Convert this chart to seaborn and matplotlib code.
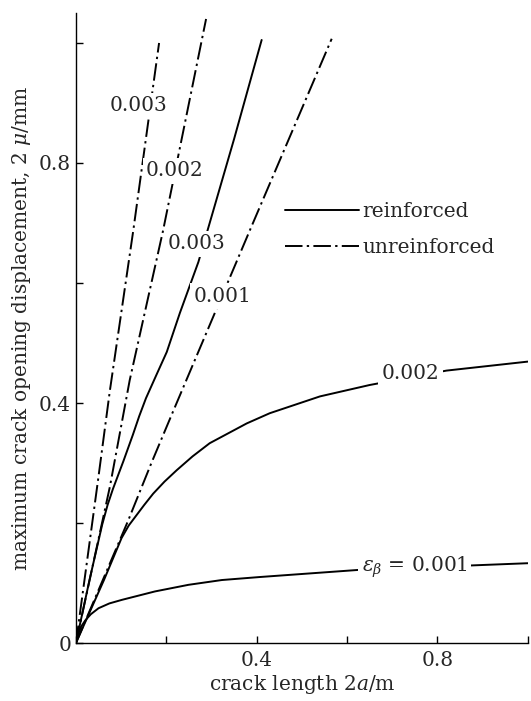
import numpy as np
import pandas as pd
import matplotlib
matplotlib.use("Agg")
import matplotlib.pyplot as plt
from matplotlib.lines import Line2D
import seaborn as sns

# ---- data ----
# unreinforced (dash-dot)
unr3_x = [0.0, 0.049, 0.075, 0.127, 0.184]
unr3_y = [0.0, 0.272, 0.420, 0.688, 1.000]
unr2_x = [0.0, 0.075, 0.119, 0.193, 0.288]
unr2_y = [0.0, 0.260, 0.438, 0.688, 1.040]
unr1_x = [0.0, 0.115, 0.167, 0.215, 0.385, 0.566]
unr1_y = [0.0, 0.203, 0.300, 0.386, 0.688, 1.007]
# reinforced (solid)
rf3_x = [0.0, 0.030, 0.058, 0.070, 0.082, 0.105, 0.126, 0.140, 0.155, 0.177, 0.201, 0.230, 0.271, 0.296, 0.350, 0.411]
rf3_y = [0.0, 0.105, 0.197, 0.230, 0.257, 0.303, 0.347, 0.378, 0.408, 0.445, 0.485, 0.550, 0.635, 0.700, 0.840, 1.005]
rf2_x = [0.0, 0.062, 0.101, 0.117, 0.134, 0.151, 0.171, 0.196, 0.223, 0.258, 0.296, 0.378, 0.429, 0.540, 0.650, 0.820, 1.000]
rf2_y = [0.0, 0.105, 0.175, 0.196, 0.213, 0.230, 0.249, 0.269, 0.288, 0.311, 0.333, 0.366, 0.383, 0.411, 0.430, 0.454, 0.469]
rf1_x = [0.0, 0.003, 0.006, 0.012, 0.021, 0.033, 0.050, 0.074, 0.102, 0.175, 0.249, 0.323, 0.407, 0.628, 1.000]
rf1_y = [0.0, 0.010, 0.017, 0.028, 0.038, 0.048, 0.058, 0.066, 0.072, 0.086, 0.097, 0.105, 0.110, 0.122, 0.133]

xticks = [0.0, 0.2, 0.4, 0.6, 0.8, 1.0]
xticklabels = ["", "", "0.4", "", "0.8", ""]
yticks = [0.0, 0.2, 0.4, 0.6, 0.8, 1.0]
yticklabels = ["0", "", "0.4", "", "0.8", ""]

curve_labels = [
    ("0.003", 0.139, 0.895),
    ("0.002", 0.219, 0.787),
    ("0.003", 0.266, 0.665),
    ("0.001", 0.325, 0.578),
    ("0.002", 0.740, 0.450),
]
eps_label = (r"$\epsilon_{\beta}$ = 0.001", 0.750, 0.127)
legend_labels = ["reinforced", "unreinforced"]

# ---- style ----
sns.set_style("ticks")
plt.rcParams["font.family"] = ["DejaVu Serif"]
plt.rcParams["mathtext.fontset"] = "dejavuserif"
FS = 14.5

fig = plt.figure(figsize=(5.31, 7.01), dpi=100)
ax = fig.add_axes([0.143, 0.0827, 0.851, 0.8988])

DASHDOT = (0, (9, 2.2, 1.2, 2.2))
LW = 1.4

def draw(x, y, ls):
    df = pd.DataFrame({"x": x, "y": y})
    sns.lineplot(data=df, x="x", y="y", ax=ax, color="black", lw=LW,
                 linestyle=ls, estimator=None, sort=False)

for x, y in [(unr3_x, unr3_y), (unr2_x, unr2_y), (unr1_x, unr1_y)]:
    draw(x, y, DASHDOT)
for x, y in [(rf3_x, rf3_y), (rf2_x, rf2_y), (rf1_x, rf1_y)]:
    draw(x, y, "-")

box = dict(facecolor="white", edgecolor="none", pad=2.5)
for txt, x, y in curve_labels:
    ax.text(x, y, txt, fontsize=FS, ha="center", va="center", bbox=box)
ax.text(eps_label[1], eps_label[2], eps_label[0], fontsize=FS, ha="center",
        va="center", bbox=box)

ax.set_xlim(0, 1.0)
ax.set_ylim(0, 1.05)
ax.set_xticks(xticks)
ax.set_xticklabels(xticklabels)
ax.set_yticks(yticks)
ax.set_yticklabels(yticklabels)
ax.tick_params(direction="in", length=5, width=1, labelsize=FS, color="black")
ax.tick_params(axis="x", pad=6)
for s in ["top", "right"]:
    ax.spines[s].set_visible(False)
for s in ["left", "bottom"]:
    ax.spines[s].set_color("black")
    ax.spines[s].set_linewidth(1)

ax.set_xlabel(r"crack length 2$a$/m", fontsize=FS, labelpad=2)
ax.set_ylabel(r"maximum crack opening displacement, 2 $\mu$/mm", fontsize=FS, labelpad=4)

handles = [Line2D([], [], color="black", lw=LW, ls="-"),
           Line2D([], [], color="black", lw=LW, ls=DASHDOT)]
ax.legend(handles, legend_labels, loc="upper left",
          bbox_to_anchor=(0.462, 0.7), frameon=False, fontsize=FS,
          handlelength=3.7, handletextpad=0.15, labelspacing=0.85,
          borderaxespad=0, borderpad=0)

fig.savefig("out.png", dpi=100)
